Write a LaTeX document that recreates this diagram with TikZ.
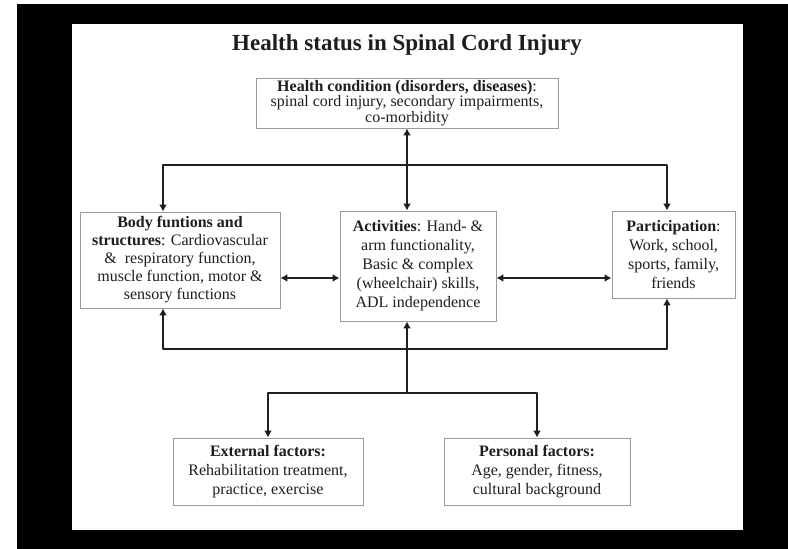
\documentclass[tikz,border=0pt]{standalone}
\usepackage{fontspec}
\setmainfont{Liberation Serif}
\usetikzlibrary{arrows.meta,positioning,calc}
\definecolor{ink}{HTML}{1E1E1E}
\definecolor{rim}{HTML}{9A9A9A}
\tikzset{
  box/.style={rectangle, draw=rim, fill=white, line width=0.9pt, align=center,
              inner sep=0pt, font=\fontsize{16}{19}\selectfont, text=ink},
  wire/.style={draw=ink, line width=2.8pt, line join=round},
  onearr/.style={wire, -{Latex[length=7pt,width=8pt]}},
  twoarr/.style={wire, {Latex[length=7pt,width=8pt]}-{Latex[length=7pt,width=8pt]}}
}

\begin{document}
\begin{tikzpicture}[x=1pt,y=-1pt]
 \useasboundingbox (0,0) rectangle (788,549);
 \fill[white] (0,0) rectangle (788,549);
 \fill[black] (17,4) rectangle (788,549);
 \fill[white] (72,24) rectangle (743,530);
 % title and boxes
 \node[font=\fontsize{23}{26}\selectfont\bfseries, text=ink] (title) at (407,45) {Health status in Spinal Cord Injury};
 \node[box, minimum width=302pt, minimum height=50pt, font=\fontsize{16}{15.5}\selectfont] (hc) at (407,103)
   {\textbf{Health condition (disorders, diseases)}:\\spinal cord injury, secondary impairments,\\co-morbidity};
 \node[box, minimum width=200pt, minimum height=96pt, font=\fontsize{16}{18}\selectfont] (body) at (180,260)
   {\textbf{Body funtions and}\\\textbf{structures}: Cardiovascular\\\&\ \ respiratory function,\\muscle function, motor \&\\sensory functions};
 \node[box, minimum width=156pt, minimum height=110pt] (act) at (418,266)
   {\textbf{Activities}: Hand- \&\\arm functionality,\\Basic \& complex\\(wheelchair) skills,\\ADL independence};
 \node[box, minimum width=123pt, minimum height=87pt] (part) at (673.5,254.5)
   {\textbf{Participation}:\\Work, school,\\sports, family,\\friends};
 \node[box, minimum width=190pt, minimum height=67pt] (ext) at (268,471.5)
   {\textbf{External factors:}\\Rehabilitation treatment,\\practice, exercise};
 \node[box, minimum width=186pt, minimum height=67pt] (pf) at (537,471.5)
   {\textbf{Personal factors:}\\Age, gender, fitness,\\cultural background};
 % bus lines
 \coordinate (lx) at (163,0);
 \coordinate (cx) at (407,0);
 \coordinate (rx) at (667,0);
 \coordinate (side) at (0,278);
 \coordinate (topbus) at (407,165);
 \coordinate (midbus) at (407,349);
 \coordinate (lowbus) at (407,393);
 \draw[twoarr] (hc.south -| cx) -- (act.north -| cx);
 \draw[onearr] (topbus) -| (lx |- body.north);
 \draw[onearr] (topbus) -| (rx |- part.north);
 \draw[twoarr] (body.east |- side) -- (act.west |- side);
 \draw[twoarr] (act.east |- side) -- (part.west |- side);
 \draw[onearr] (midbus) -| (lx |- body.south);
 \draw[onearr] (midbus) -| (rx |- part.south);
 \draw[onearr] (lowbus) -- (act.south -| cx);
 \draw[onearr] (lowbus) -| (ext.north);
 \draw[onearr] (lowbus) -| (pf.north);
\end{tikzpicture}
\end{document}
